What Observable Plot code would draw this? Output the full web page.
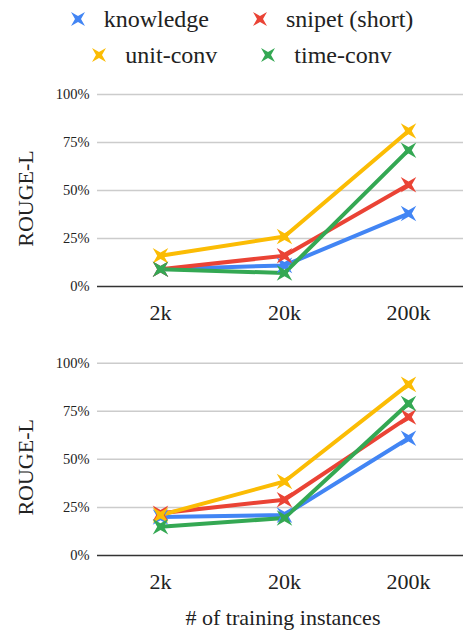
<!DOCTYPE html>
<html>
<head>
<meta charset="utf-8">
<script src="https://cdn.jsdelivr.net/npm/d3@7"></script>
<script src="https://cdn.jsdelivr.net/npm/@observablehq/plot@0.6"></script>
<style>
  body { margin: 0; background: #fff; width: 463px; font-family: "Liberation Serif", "Times New Roman", Times, serif; color: #222; }
  #legend { height: 78px; box-sizing: border-box; padding-top: 1px; padding-left: 21px; }
  .row { display: flex; justify-content: center; align-items: center; height: 36px; font-size: 24px; }
  .item { display: flex; align-items: center; margin: 0 22px; }
  .item svg { margin-right: 19px; }
  #caption { font-size: 22px; text-align: center; padding-left: 103px; padding-top: 3px; line-height: 30px; }
</style>
</head>
<body>
<div id="legend"></div>
<div id="c1"></div>
<div id="c2"></div>
<div id="caption"># of training instances</div>
<script>
const sizes = ["2k", "20k", "200k"];
const series = ["knowledge", "snipet (short)", "unit-conv", "time-conv"];
const colors = ["#4285F4", "#EA4335", "#FBBC04", "#34A853"];
const yTicks = [0, 0.25, 0.5, 0.75, 1];
const gridTicks = [0.25, 0.5, 0.75, 1];

// top chart values (ROUGE-L)
const topKnowledge = [0.09, 0.11, 0.38];
const topSnipet = [0.09, 0.16, 0.53];
const topUnit = [0.16, 0.26, 0.81];
const topTime = [0.09, 0.07, 0.71];

// bottom chart values (ROUGE-L)
const botKnowledge = [0.20, 0.21, 0.61];
const botSnipet = [0.22, 0.29, 0.72];
const botUnit = [0.21, 0.385, 0.89];
const botTime = [0.15, 0.195, 0.79];

const serifFont = '"Liberation Serif", "Times New Roman", Times, serif';

const star = {
  draw(ctx, size) {
    const R = Math.sqrt(size / Math.PI) * 2;
    const r = R * 0.3;
    for (let i = 0; i < 8; i++) {
      const a = i * Math.PI / 4 + Math.PI / 4;
      const rad = i % 2 === 0 ? R : r;
      const px = rad * Math.cos(a), py = rad * Math.sin(a);
      if (i === 0) ctx.moveTo(px, py); else ctx.lineTo(px, py);
    }
    ctx.closePath();
  }
};

function starPath(R) {
  const p = d3.path();
  star.draw(p, Math.PI * (R / 2) * (R / 2));
  return p.toString();
}

// legend
const legend = document.getElementById("legend");
[[0, 1], [2, 3]].forEach(idx => {
  const row = document.createElement("div");
  row.className = "row";
  idx.forEach(i => {
    const it = document.createElement("div");
    it.className = "item";
    it.innerHTML = `<svg width="14" height="16" viewBox="-7 -8 14 16"><path d="${starPath(10)}" fill="${colors[i]}"></path></svg><span>${series[i]}</span>`;
    row.appendChild(it);
  });
  legend.appendChild(row);
});

function chart(vals, height, mt, mb) {
  const data = [];
  series.forEach((s, i) => sizes.forEach((x, j) => data.push({series: s, size: x, value: vals[i][j]})));
  return Plot.plot({
    width: 463, height, marginLeft: 97, marginRight: 0, marginTop: mt, marginBottom: mb,
    style: {fontFamily: serifFont, background: "white", color: "#222"},
    x: {type: "point", domain: sizes, range: [160, 408], padding: 0},
    y: {domain: [0, 1]},
    color: {domain: series, range: colors},
    marks: [
      Plot.ruleY(gridTicks, {stroke: "#cccccc", strokeWidth: 1.5}),
      Plot.ruleY([0], {stroke: "#333333", strokeWidth: 1.5}),
      Plot.axisY({ticks: yTicks, tickFormat: d3.format(".0%"), tickSize: 0, tickPadding: 8, fontSize: 14.5, label: null}),
      Plot.axisX({tickSize: 0, tickPadding: 18, fontSize: 22, label: null}),
      Plot.line(data, {x: "size", y: "value", stroke: "series", z: "series", strokeWidth: 4}),
      Plot.dot(data, {x: "size", y: "value", fill: "series", symbol: star, r: 5.5}),
      Plot.text(["ROUGE-L"], {frameAnchor: "left", textAnchor: "middle", rotate: -90, dx: -71.5, dy: 8, fontSize: 22, fill: "#222"})
    ]
  });
}

document.getElementById("c1").appendChild(chart([topKnowledge, topSnipet, topUnit, topTime], 264, 16, 56));
document.getElementById("c2").appendChild(chart([botKnowledge, botSnipet, botUnit, botTime], 258, 20.7, 45));
</script>
</body>
</html>
